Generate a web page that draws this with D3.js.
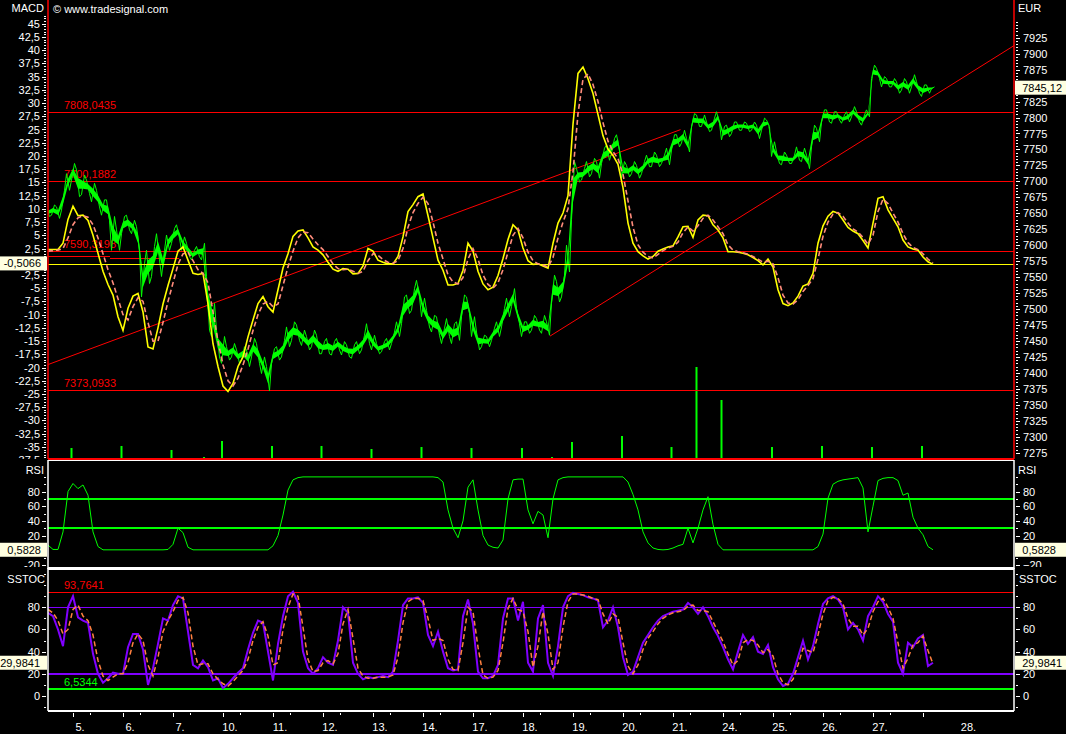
<!DOCTYPE html>
<html><head><meta charset="utf-8">
<script src="https://cdn.jsdelivr.net/npm/d3@7"></script>
<style>
body{margin:0;background:#000}
svg{display:block}
text{font-family:"Liberation Sans",Arial,sans-serif;font-size:11px}
</style>
</head><body>
<svg id="c" width="1066" height="734"></svg>
<script>
// ---------------- DATA ----------------
// one slot = 1/10 trading day; day "5." starts at slot 5
const dayLabels = ["5.","6.","7.","10.","11.","12.","13.","14.","17.","18.","19.","20.","21.","24.","25.","26.","27.","28."];
const dayTickSlots = [5,15,25,35,45,55,65,75,85,95,105,115,125,135,145,155,165,175];

const priceHigh = [7658,7663,7660,7686,7712,7728,7718,7710,7702,7697,
7686,7671,7671,7645,7624,7645,7647,7639,7629,7571,
7592,7598,7618,7592,7616,7626,7632,7613,7603,7592,
7598,7603,7551,7509,7467,7457,7441,7446,7436,7441,
7436,7454,7446,7425,7410,7438,7441,7451,7472,7480,
7475,7467,7457,7467,7459,7449,7454,7449,7454,7449,
7444,7444,7449,7459,7477,7459,7446,7449,7454,7464,
7480,7519,7522,7532,7545,7517,7498,7490,7488,7470,
7485,7477,7480,7522,7519,7488,7464,7459,7457,7470,
7480,7501,7517,7532,7501,7480,7480,7490,7485,7490,
7480,7553,7543,7553,7600,7731,7720,7720,7731,7736,
7731,7752,7757,7767,7773,7731,7725,7731,7725,7731,
7741,7746,7741,7741,7752,7773,7773,7780,7767,7806,
7804,7804,7793,7799,7809,7786,7788,7793,7793,7793,
7791,7793,7788,7799,7796,7762,7746,7746,7741,7741,
7754,7752,7741,7788,7783,7812,7812,7809,7809,7804,
7809,7817,7809,7804,7812,7882,7877,7864,7861,7861,
7856,7861,7856,7867,7856,7851,7851,7848];
const priceLow = [7645,7647,7642,7655,7686,7702,7676,7679,7681,7668,
7660,7647,7639,7592,7592,7618,7624,7618,7592,7519,
7540,7551,7577,7551,7592,7603,7611,7592,7582,7577,
7582,7577,7467,7457,7425,7415,7420,7425,7415,7420,
7410,7425,7415,7399,7372,7415,7420,7425,7441,7451,
7451,7443,7436,7441,7430,7430,7430,7428,7436,7428,
7425,7423,7430,7436,7446,7436,7430,7433,7436,7446,
7457,7477,7493,7498,7519,7488,7472,7464,7459,7446,
7457,7446,7451,7488,7493,7457,7436,7441,7441,7451,
7457,7472,7488,7504,7477,7457,7462,7467,7467,7462,
7459,7509,7511,7519,7558,7640,7699,7702,7707,7712,
7705,7728,7733,7744,7749,7705,7707,7712,7705,7712,
7723,7723,7723,7728,7726,7749,7754,7760,7746,7786,
7786,7786,7778,7780,7791,7765,7770,7775,7780,7780,
7778,7780,7767,7780,7786,7739,7728,7726,7728,7728,
7733,7731,7720,7754,7762,7793,7793,7791,7796,7791,
7793,7801,7793,7788,7801,7861,7861,7848,7848,7848,
7838,7843,7838,7848,7838,7833,7838,7845.12];

const macd = [2.3,2.3,2.3,3.5,8.0,10.5,8.7,8.8,7.8,5.0,
1.6,-1.8,-4.3,-6.3,-10.4,-13.0,-8.8,-6.5,-6.0,-9.5,
-16.1,-16.5,-12.5,-8.0,-4.5,-1.3,2.0,2.8,0.3,-2.2,
-2.4,-2.2,-7.9,-15.5,-19.8,-23.5,-24.5,-23.0,-19.8,-18.0,
-14.2,-11.0,-7.9,-6.6,-8.5,-9.5,-5.3,-1.2,1.5,4.8,
5.8,6.0,4.5,2.8,2.2,1.3,-0.1,-1.4,-1.8,-1.3,
-1.4,-2.3,-2.2,-0.8,2.5,2.0,0.3,-0.1,-0.4,-0.4,
1.0,4.7,9.5,10.8,12.3,12.8,8.7,4.5,0.3,-1.6,
-4.4,-4.4,-4.1,-1.6,3.5,2.0,-1.8,-4.2,-5.3,-4.8,
-2.6,0.6,4.2,7.0,6.0,2.6,0.2,-0.5,-0.4,-0.8,
-1.2,3.5,7.3,9.2,12.5,26.0,35.6,36.8,34.6,31.8,
27.8,23.8,21.3,20.1,18.4,14.0,7.3,3.5,1.9,1.1,
0.5,1.0,2.0,2.4,2.8,3.0,4.7,6.6,6.7,4.6,
7.9,8.8,8.7,7.0,6.0,4.5,1.9,1.9,1.8,1.6,
1.3,0.8,0.2,-0.6,0.5,-1.0,-5.3,-7.9,-8.3,-7.8,
-6.5,-4.6,-4.2,-2.2,3.5,6.8,8.6,9.5,9.2,7.9,
6.5,5.8,5.3,4.0,2.6,7.3,12.0,12.3,9.8,8.2,
6.6,4.1,2.8,2.4,2.2,0.9,0.0,-0.5066];
const signal = [2.0,2.1,2.2,2.5,4.5,7.0,8.3,8.7,8.4,7.0,
4.5,1.5,-1.5,-4.0,-7.0,-10.0,-11.0,-8.5,-6.8,-7.5,
-11.5,-15.0,-15.0,-11.5,-7.5,-4.0,-0.5,1.5,1.8,0.2,
-1.5,-2.2,-4.0,-9.5,-15.0,-19.5,-22.5,-23.5,-22.0,-19.5,
-16.5,-13.0,-10.0,-8.0,-7.5,-8.5,-8.0,-4.5,-1.0,2.0,
4.5,5.6,5.5,4.3,3.2,2.3,1.0,-0.4,-1.3,-1.5,
-1.4,-1.8,-2.2,-1.8,0.2,1.5,1.2,0.4,-0.1,-0.3,
0.2,2.5,6.5,9.3,11.0,12.2,11.0,7.5,3.5,0.5,
-2.5,-3.8,-4.2,-3.0,0.5,2.5,0.5,-2.5,-4.3,-5.0,
-4.0,-1.5,1.8,5.0,6.3,4.5,1.8,0.2,-0.4,-0.6,
-1.0,0.8,4.5,7.5,10.0,17.0,28.0,34.5,35.5,33.5,
30.3,26.3,22.8,20.8,19.5,16.5,11.5,6.5,3.2,1.8,
1.0,0.7,1.4,2.1,2.6,2.9,3.7,5.5,6.6,5.8,
6.8,8.2,8.8,7.9,6.6,5.3,3.2,2.2,1.9,1.7,
1.4,1.0,0.5,-0.1,0.1,-0.4,-3.0,-6.3,-7.8,-8.0,
-7.2,-5.6,-4.5,-3.2,0.5,4.8,7.5,9.0,9.3,8.6,
7.3,6.2,5.6,4.6,3.3,5.0,9.5,11.8,11.0,9.2,
7.5,5.3,3.6,2.7,2.3,1.5,0.5,-0.2];

const volSlots  = [3.0,4.7,12.7,14.7,19.1,24.7,31.2,34.8,44.8,54.7,64.7,71.3,74.7,81.2,84.7,93.0,94.8,100.8,104.8,109.8,111.3,114.8,121.3,124.7,128.1,129.7,134.7,144.8,146.4,153.4,154.8,164.8,174.8];
const volValues = [100,1100,100,1300,100,900,200,1800,1300,1300,1000,100,1200,100,1100,100,1100,200,1700,100,100,2300,100,1200,100,9200,5900,1200,100,100,1300,1200,1300];

const priceLevels = [7808.0435, 7700.1882, 7590.3198, 7373.0933];
const priceLevelLabels = ["7808,0435","7700,1882","7590,3198","7373,0933"];
const pivotSteps = [[0,3.4,7582.9],[3.4,12.4,7581.8],[12.4,26.1,7579.3]];
const trendLines = [[0,7413,126.5,7781],[100.4,7457.6,193.2,7912.6]];
const macdLast = -0.5066, priceLast = 7845.12;

const rsi = [7,1,1,25,80,91,84,89,75,25,
5,0.5,0.5,0.5,0.5,0.5,0.5,0.5,0.5,0.5,
0.5,0.5,0.5,0.5,1,8,30,24,4,0.5,
0.5,0.5,0.5,0.5,0.5,0.5,0.5,0.5,0.5,0.5,
0.5,0.5,0.5,0.5,0.5,6,20,48,82,96,
99,100,100,100,100,100,100,100,100,100,
100,100,100,100,100,100,100,100,100,100,
100,100,100,100,100,100,100,100,99,93,
55,30,17,40,86,96,55,20,7,4,
3,14,70,96,97,97,55,36,53,48,
17,70,96,99,100,100,100,100,100,100,
100,100,100,100,100,100,93,76,55,25,
10,3,1,0.5,1,3,6,8,30,10,
30,55,73,35,8,0.5,0.5,0.5,0.5,0.5,
0.5,0.5,0.5,0.5,0.5,0.5,0.5,0.5,0.5,0.5,
0.5,0.5,0.5,0.5,5,22,71,90,94,96,
97,98,99,85,25,60,95,98,99,99,
95,75,78,45,30,21,5,0.5828];
const rsiLevels = [70,30];
const rsiTicks = [-20,20,40,60,80];

const stochK = [75,72,60,45,80,90,71,68,66,38,
20,12,16,21,20,20,44,56,56,42,
10,25,47,70,68,82,90,88,58,28,
25,32,26,14,16,7,11,16,21,25,
42,57,68,66,40,14,47,72,90,94,
84,40,25,20,25,35,30,28,50,80,
75,30,20,15,17,16,17,18,17,22,
50,82,88,88,89,84,55,45,58,40,
25,23,24,72,87,65,22,16,16,18,
28,70,88,88,68,85,30,22,70,82,
30,18,45,80,90,93,92,91,89,88,
86,62,68,80,62,35,19,22,35,48,
55,62,68,72,74,76,77,78,84,80,
74,80,72,62,54,44,33,24,40,55,
47,53,40,38,46,26,15,9,11,20,
35,50,33,45,65,83,88,90,87,80,
60,66,60,50,72,80,90,85,74,67,
30,20,48,44,52,55,27,29.9841];
const stochD = [78,75,68,56,60,78,82,72,68,55,
32,18,14,17,20,20,30,48,56,50,
28,18,35,58,68,76,86,89,75,45,
28,29,29,20,15,11,9,13,18,23,
33,50,62,67,54,28,30,60,80,92,
90,62,33,22,23,30,32,29,38,65,
78,52,25,18,16,16,17,17,17,19,
35,66,85,88,88,86,70,50,52,50,
33,24,23,48,80,76,44,19,16,17,
23,48,79,88,78,76,58,26,45,76,
56,24,30,62,85,92,92,91,90,88,
87,74,65,74,71,48,27,20,28,42,
52,58,65,70,73,75,76,77,81,82,
77,77,76,67,58,49,38,28,32,48,
51,50,46,39,42,36,20,12,10,15,
28,43,41,39,55,74,86,89,88,83,
70,63,63,55,61,76,85,88,80,70,
48,25,34,46,48,54,41,29];
const stoLevels = [[93.7641,"#ff0000",1,"93,7641"],[80,"#8000ff",1.5,null],[20,"#8000ff",1.5,null],[6.5344,"#00ff00",1.5,"6,5344"]];
const stoTicks = [0,20,40,60,80];
const stoLast = 29.9841, rsiLast = 0.5828;

// ---------------- DRAW ----------------
const W = 1066, H = 734, L = 48, R = 1014;
const svg = d3.select("#c");
svg.append("rect").attr("width", W).attr("height", H).attr("fill", "#000");
const defs = svg.append("defs");
function clip(id, x0, y0, x1, y1) {
  defs.append("clipPath").attr("id", id).append("rect")
    .attr("x", x0).attr("y", y0).attr("width", x1 - x0).attr("height", y1 - y0);
  return "url(#" + id + ")";
}
const comma = d => String(d).replace(".", ",");

const x = d3.scaleLinear().domain([0, 193.2]).range([L, R]);
const yM = d3.scaleLinear().domain([-37.5, 45]).range([460.1, 23.7]);
const yP = d3.scaleLinear().domain([7275, 7925]).range([452.7, 37.7]);
const yV = d3.scaleLinear().domain([0, 10000]).range([459, 359]);
const yR = d3.scaleLinear().domain([0, 100]).range([550.2, 476.9]);
const yS = d3.scaleLinear().domain([0, 100]).range([696, 585.1]);

const mainClip = clip("cm", L, 0, R, 459);
const mainAxClip = clip("cma", 0, 14, W, 459);
const rsiClip = clip("cr", L, 461, R, 567);
const rsiAxClip = clip("cra", 0, 461, W, 567);
const stoClip = clip("cs", L, 570, R, 711);
const stoAxClip = clip("csa", 0, 570, W, 711);

function hline(g, y, color, w, x0 = L, x1 = R) {
  g.append("line").attr("x1", x0).attr("x2", x1).attr("y1", y).attr("y2", y)
    .attr("stroke", color).attr("stroke-width", w).attr("shape-rendering", "crispEdges");
}
function styleAxis(g) {
  g.select(".domain").remove();
  g.selectAll("line").attr("stroke", "#fff").attr("shape-rendering", "crispEdges");
  g.selectAll("text").attr("fill", "#fff").style("font-family", '"Liberation Sans",Arial,sans-serif').style("font-size", "11px");
}
// ticks whose label would sit under a value box are drawn without a label
function labelsAway(vals, scale, yBox) {
  return vals.filter(v => Math.abs(scale(v) - yBox) > 9);
}
function yAxes(scale, major, minor, clipUrl) {
  const gl = svg.append("g").attr("clip-path", clipUrl);
  styleAxis(gl.append("g").attr("transform", "translate(46,0)")
    .call(d3.axisLeft(scale).tickValues(minor).tickSize(2).tickFormat("")));
  styleAxis(gl.append("g").attr("transform", "translate(46,0)")
    .call(d3.axisLeft(scale).tickValues(major).tickSize(4).tickPadding(2).tickFormat(comma)));
  return gl;
}
function boxLabel(xLeft, w, yc, txt, anchorX, anchor) {
  svg.append("rect").attr("x", xLeft).attr("y", yc - 7).attr("width", w).attr("height", 14).attr("fill", "#ffffe1");
  svg.append("text").attr("x", anchorX).attr("y", yc + 4).attr("text-anchor", anchor).attr("fill", "#000").text(txt);
}

// ===== MAIN PANEL =====
const gm = svg.append("g").attr("clip-path", mainClip);
// volume
gm.selectAll("rect.vol").data(volSlots).enter().append("rect")
  .attr("x", (d) => x(d) - 1).attr("width", 2)
  .attr("y", (d, i) => yV(volValues[i])).attr("height", (d, i) => yV(0) - yV(volValues[i]))
  .attr("fill", "#00ff00");
// price levels
priceLevels.forEach((v, i) => {
  hline(gm, Math.round(yP(v)) + 0.5, "#ff0000", (i === 0 || i === 3) ? 1.3 : 1);
  gm.append("text").attr("x", 64).attr("y", yP(v) - 3).attr("fill", "#ff0000").text(priceLevelLabels[i]);
});
pivotSteps.forEach(s => {
  gm.append("line").attr("x1", x(s[0])).attr("x2", x(s[1])).attr("y1", yP(s[2])).attr("y2", yP(s[2]))
    .attr("stroke", "#ff0000").attr("stroke-width", 1).attr("shape-rendering", "crispEdges");
});
trendLines.forEach(t => {
  gm.append("line").attr("x1", x(t[0])).attr("y1", yP(t[1])).attr("x2", x(t[2])).attr("y2", yP(t[3]))
    .attr("stroke", "#ff0000").attr("stroke-width", 1);
});
// price: inner core of the high/low range plus a zig-zag through the extremes
const core = d3.area().x((d, i) => x(i))
  .y0((d, i) => yP(priceLow[i]) - 0.3 * (yP(priceLow[i]) - yP(d)))
  .y1((d, i) => yP(d) + 0.3 * (yP(priceLow[i]) - yP(d)));
gm.append("path").attr("d", core(priceHigh)).attr("fill", "#00ff00");
const pts = [];
priceHigh.forEach((h, i) => {
  const l = priceLow[i];
  const pair = i % 2 === 0 ? [h, l] : [l, h];
  pts.push([i - 0.3, pair[0]], [i + 0.3, pair[1]]);
});
gm.append("path").attr("d", d3.line().x(d => x(d[0])).y(d => yP(d[1]))(pts))
  .attr("fill", "none").attr("stroke", "#00ff00").attr("stroke-width", 1);
// macd current value line
hline(gm, yM(macdLast), "#ffff00", 1.3);
// macd & signal
const lineM = d3.line().x((d, i) => x(i)).y(d => yM(d));
gm.append("path").attr("d", lineM(macd)).attr("fill", "none").attr("stroke", "#ffff00").attr("stroke-width", 1.6);
gm.append("path").attr("d", lineM(signal)).attr("fill", "none").attr("stroke", "#ff8c7c")
  .attr("stroke-width", 1.6).attr("stroke-dasharray", "5,3");

// borders
svg.append("line").attr("x1", L).attr("x2", L).attr("y1", 0).attr("y2", 459).attr("stroke", "#ff0000").attr("stroke-width", 1.5);
svg.append("line").attr("x1", R).attr("x2", R).attr("y1", 0).attr("y2", 459).attr("stroke", "#ff0000").attr("stroke-width", 1.5);
hline(svg, 459, "#ff0000", 1.5, L, R);

// main axes
const macdBoxY = yM(macdLast) - 1, priceBoxY = yP(priceLast) - 1;
const gMa = yAxes(yM, [], d3.range(-38, 48, 0.5), mainAxClip);
styleAxis(gMa.append("g").attr("transform", "translate(46,0)")
  .call(d3.axisLeft(yM).tickValues(d3.range(-37.5, 45.1, 2.5)).tickSize(4).tickFormat("")));
styleAxis(gMa.append("g").attr("transform", "translate(46,0)")
  .call(d3.axisLeft(yM).tickValues(labelsAway(d3.range(-37.5, 45.1, 2.5), yM, macdBoxY)).tickSize(4).tickPadding(2).tickFormat(comma)));
const gr = svg.append("g").attr("clip-path", mainAxClip);
styleAxis(gr.append("g").attr("transform", "translate(1016,0)")
  .call(d3.axisRight(yP).tickValues(d3.range(7275, 7951, 5)).tickSize(2).tickFormat("")));
styleAxis(gr.append("g").attr("transform", "translate(1016,0)")
  .call(d3.axisRight(yP).tickValues(d3.range(7275, 7926, 25)).tickSize(4).tickFormat("")));
styleAxis(gr.append("g").attr("transform", "translate(1016,0)")
  .call(d3.axisRight(yP).tickValues(labelsAway(d3.range(7275, 7926, 25), yP, priceBoxY)).tickSize(4).tickPadding(3).tickFormat(d3.format("d"))));

svg.append("text").attr("x", 44).attr("y", 12).attr("text-anchor", "end").attr("fill", "#fff").text("MACD");
svg.append("text").attr("x", 53).attr("y", 13).attr("fill", "#fff").text("\u00a9 www.tradesignal.com");
svg.append("text").attr("x", 1018).attr("y", 12).attr("fill", "#fff").text("EUR");
boxLabel(0, 47, macdBoxY, comma(macdLast), 41, "end");
boxLabel(1015, 51, priceBoxY, comma(priceLast), 1062, "end");

// ===== RSI PANEL =====
const grs = svg.append("g").attr("clip-path", rsiClip);
rsiLevels.forEach(v => hline(grs, yR(v), "#00ff00", 1.5));
grs.append("path").attr("d", d3.line().x((d, i) => x(i)).y(d => yR(d))(rsi))
  .attr("fill", "none").attr("stroke", "#00ff00").attr("stroke-width", 1);
yAxes(yR, rsiTicks, d3.range(-20, 101, 10), rsiAxClip);
const rr = svg.append("g").attr("clip-path", rsiAxClip);
styleAxis(rr.append("g").attr("transform", "translate(1016,0)")
  .call(d3.axisRight(yR).tickValues(d3.range(-20, 101, 10)).tickSize(2).tickFormat("")));
styleAxis(rr.append("g").attr("transform", "translate(1016,0)")
  .call(d3.axisRight(yR).tickValues(rsiTicks).tickSize(4).tickPadding(3)));
svg.append("line").attr("x1", L).attr("x2", L).attr("y1", 460).attr("y2", 569).attr("stroke", "#fff").attr("stroke-width", 1.5);
svg.append("line").attr("x1", R).attr("x2", R).attr("y1", 460).attr("y2", 569).attr("stroke", "#fff").attr("stroke-width", 1.5);
hline(svg, 460.5, "#fff", 1, L, R);
hline(svg, 568.5, "#fff", 2.5, L, R);
svg.append("text").attr("x", 44).attr("y", 474).attr("text-anchor", "end").attr("fill", "#fff").text("RSI");
svg.append("text").attr("x", 1018).attr("y", 474).attr("fill", "#fff").text("RSI");
boxLabel(0, 47, yR(rsiLast), comma(rsiLast), 41, "end");
boxLabel(1015, 51, yR(rsiLast), comma(rsiLast), 1056, "end");

// ===== SSTOC PANEL =====
const gst = svg.append("g").attr("clip-path", stoClip);
stoLevels.forEach(l => {
  hline(gst, yS(l[0]), l[1], l[2]);
  if (l[3]) gst.append("text").attr("x", 64).attr("y", yS(l[0]) - 3).attr("fill", l[1]).text(l[3]);
});
const lineS = d3.line().x((d, i) => x(i)).y(d => yS(d));
gst.append("path").attr("d", lineS(stochK)).attr("fill", "none").attr("stroke", "#8000ff").attr("stroke-width", 2);
gst.append("path").attr("d", lineS(stochD)).attr("fill", "none").attr("stroke", "#ff8040")
  .attr("stroke-width", 1.5).attr("stroke-dasharray", "5,3");
yAxes(yS, stoTicks, d3.range(-10, 111, 10), stoAxClip);
const sr = svg.append("g").attr("clip-path", stoAxClip);
styleAxis(sr.append("g").attr("transform", "translate(1016,0)")
  .call(d3.axisRight(yS).tickValues(d3.range(-10, 111, 10)).tickSize(2).tickFormat("")));
styleAxis(sr.append("g").attr("transform", "translate(1016,0)")
  .call(d3.axisRight(yS).tickValues(stoTicks).tickSize(4).tickPadding(3)));
svg.append("line").attr("x1", L).attr("x2", L).attr("y1", 568).attr("y2", 711).attr("stroke", "#fff").attr("stroke-width", 1.5);
svg.append("line").attr("x1", R).attr("x2", R).attr("y1", 568).attr("y2", 711).attr("stroke", "#fff").attr("stroke-width", 1.5);
hline(svg, 711, "#fff", 1.5, L, R);
svg.append("text").attr("x", 45).attr("y", 583).attr("text-anchor", "end").attr("fill", "#fff").text("SSTOC");
svg.append("text").attr("x", 1019).attr("y", 583).attr("fill", "#fff").text("SSTOC");
boxLabel(0, 47, yS(stoLast), comma(stoLast), 40, "end");
boxLabel(1015, 51, yS(stoLast), comma(stoLast), 1062, "end");

// ===== X AXIS =====
styleAxis(svg.append("g").attr("transform", "translate(0,713)")
  .call(d3.axisBottom(x).tickValues(dayTickSlots).tickSize(4).tickFormat("")));
const minorSlots = dayTickSlots.slice(0, -1).map(s => s + 3.33);
styleAxis(svg.append("g").attr("transform", "translate(0,713)")
  .call(d3.axisBottom(x).tickValues(minorSlots).tickSize(2).tickFormat("")));
dayLabels.forEach((lab, i) => {
  const s = dayTickSlots[i];
  const cx = i === dayLabels.length - 1 ? (x(s) + R) / 2 : x(s) + 7;
  svg.append("text").attr("x", cx).attr("y", 731).attr("text-anchor", "middle").attr("fill", "#fff").text(lab);
});
</script>
</body></html>
